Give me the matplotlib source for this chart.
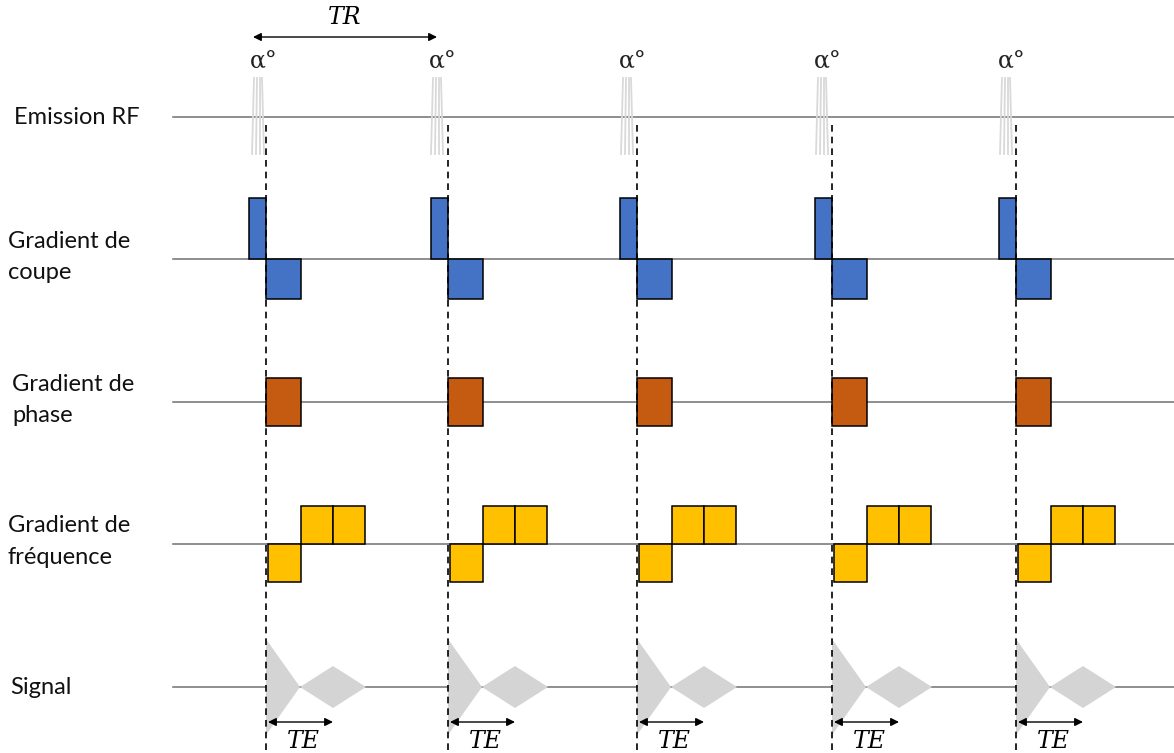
import matplotlib
matplotlib.use("Agg")
import matplotlib.pyplot as plt
from matplotlib.patches import Rectangle, Polygon

# ---- data (time axis in diagram units, amplitude in diagram units) ----
lane_labels = ["Emission RF", "Gradient de\ncoupe", "Gradient de\nphase",
               "Gradient de\nfréquence", "Signal"]
lane_base = [117, 259, 402, 544, 687]
lane_label_x = [14, 8, 12, 8, 10]

cycle_t0 = [266, 448, 637, 832, 1016]        # start of each TR (dashed lines)
rf_center = [258, 437, 627, 822, 1006]       # RF pulse centres
flip_label = "α°"

slice_pre_w, slice_pre_h = 17, 61
slice_neg_w, slice_neg_h = 35, 40
phase_w, phase_h = 35, 24
freq_neg_off, freq_neg_w, freq_neg_h = 2, 33, 38
freq_pos_w, freq_pos_h = 32, 38

fid_len, fid_amp = 34, 48
echo_len, echo_amp = 66, 21

TE_len = 65
TR_span = (253, 437)

c_slice = "#4472C4"
c_phase = "#C55A11"
c_freq = "#FFC000"
c_grey = "#d4d4d4"

fig = plt.figure(figsize=(11.74, 7.53), dpi=100)
ax = fig.add_axes([0, 0, 1, 1])
ax.set_xlim(0, 1174)
ax.set_ylim(753, 0)
ax.axis("off")

lab_font = dict(fontsize=17, family="Lato", color="#111111")

# baselines and labels
for lab, y, lx in zip(lane_labels, lane_base, lane_label_x):
    ax.plot([173, 1174], [y, y], color="#707070", lw=1.1, zorder=1)
    lines = lab.split("\n")
    if len(lines) == 1:
        ax.text(lx, y, lab, ha="left", va="center", **lab_font)
    else:
        ax.text(lx, y - 18, lines[0], ha="left", va="center", **lab_font)
        ax.text(lx, y + 13, lines[1], ha="left", va="center", **lab_font)

edge = dict(edgecolor="black", lw=1.1, zorder=3)
for t0, rc in zip(cycle_t0, rf_center):
    # RF pulse: a few thin light lines
    yb = lane_base[0]
    for dx_top, dx_bot in [(-4, -6), (-1, -2), (2, 2), (4, 6)]:
        ax.plot([rc + dx_top, rc + dx_bot], [yb - 39, yb + 37],
                color="#d9d9d9", lw=1.3, zorder=2)
    ax.text(rc + 6, 62, flip_label, ha="center", va="center", fontsize=17,
            family="DejaVu Serif", color="#222222")

    # dashed marker
    ax.plot([t0, t0], [125, 753], color="black", lw=1.2,
            dashes=(4, 3), zorder=5)

    # slice gradient
    yb = lane_base[1]
    ax.add_patch(Rectangle((t0 - slice_pre_w, yb - slice_pre_h), slice_pre_w,
                           slice_pre_h, facecolor=c_slice, **edge))
    ax.add_patch(Rectangle((t0, yb), slice_neg_w, slice_neg_h,
                           facecolor=c_slice, **edge))
    # phase gradient
    yb = lane_base[2]
    ax.add_patch(Rectangle((t0, yb - phase_h), phase_w, 2 * phase_h,
                           facecolor=c_phase, **edge))
    # frequency gradient
    yb = lane_base[3]
    xn = t0 + freq_neg_off
    ax.add_patch(Rectangle((xn, yb), freq_neg_w, freq_neg_h,
                           facecolor=c_freq, **edge))
    for j in range(2):
        ax.add_patch(Rectangle((xn + freq_neg_w + j * freq_pos_w, yb - freq_pos_h),
                               freq_pos_w, freq_pos_h, facecolor=c_freq, **edge))
    # signal
    yb = lane_base[4]
    ax.add_patch(Polygon([(t0, yb - fid_amp), (t0 + fid_len, yb),
                          (t0, yb + fid_amp)], closed=True,
                         facecolor=c_grey, edgecolor="none", zorder=2))
    es = t0 + fid_len
    ax.add_patch(Polygon([(es, yb), (es + echo_len / 2, yb - echo_amp),
                          (es + echo_len, yb), (es + echo_len / 2, yb + echo_amp)],
                         closed=True, facecolor=c_grey, edgecolor="none",
                         zorder=2))
    # TE arrow
    ax.annotate("", xy=(t0 + 2 + TE_len, 722), xytext=(t0 + 2, 722),
                arrowprops=dict(arrowstyle="<|-|>", color="black", lw=1,
                                mutation_scale=12, shrinkA=0, shrinkB=0),
                zorder=6)
    ax.text(t0 + 37, 742, "TE", ha="center", va="center", fontsize=17,
            family="DejaVu Serif", style="italic")

# TR arrow
ax.annotate("", xy=(TR_span[1], 37), xytext=(TR_span[0], 37),
            arrowprops=dict(arrowstyle="<|-|>", color="black", lw=1,
                            mutation_scale=12, shrinkA=0, shrinkB=0))
ax.text((TR_span[0] + TR_span[1]) / 2, 17, "TR", ha="center", va="center",
        fontsize=17, family="DejaVu Serif", style="italic")

fig.savefig("out.png", dpi=100)
